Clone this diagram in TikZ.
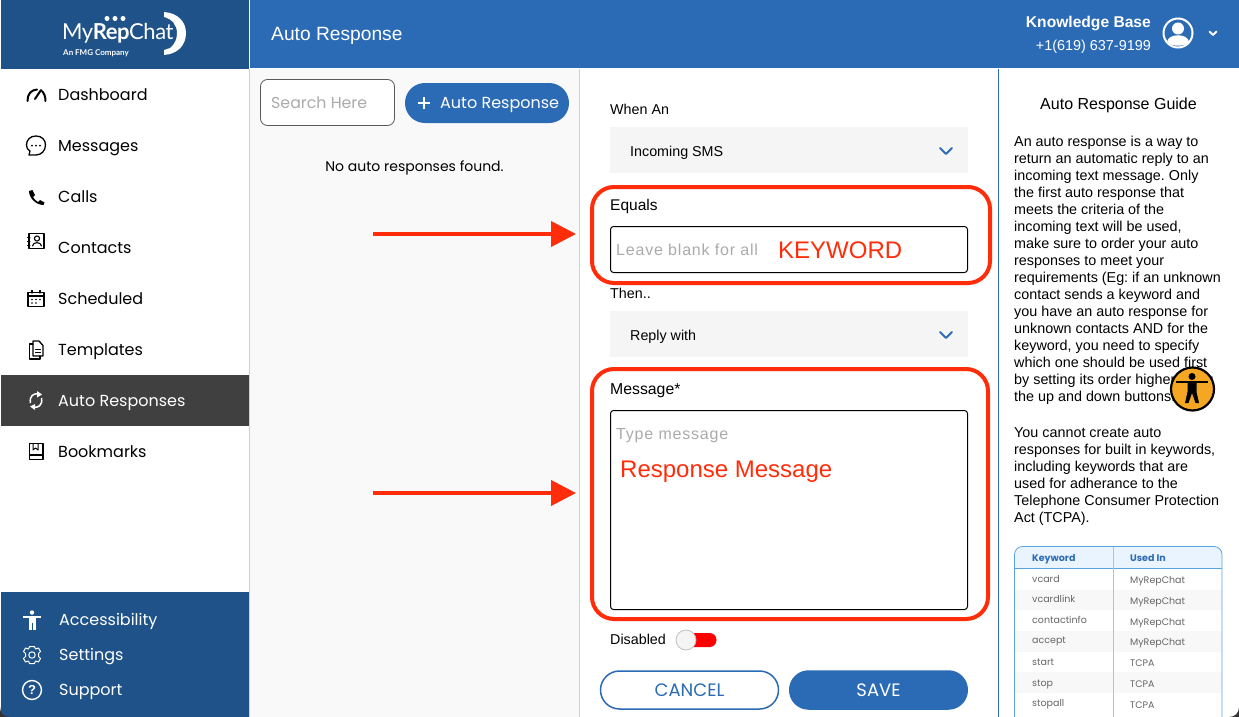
\documentclass[tikz,border=0pt]{standalone}
\usepackage{fontspec}
\setmainfont{Liberation Sans}
\newfontfamily\popfont{Poppins}
\newfontfamily\logofont{Lato}
\usetikzlibrary{arrows.meta}
\definecolor{navy}{HTML}{1F5289}
\definecolor{headblue}{HTML}{2B6BB5}
\definecolor{darkrow}{HTML}{404040}
\definecolor{listbg}{HTML}{F9F9F9}
\definecolor{selectbg}{HTML}{F5F5F5}
\definecolor{hintgray}{HTML}{ABABAB}
\definecolor{markred}{HTML}{FF2D0A}
\definecolor{orangeicon}{HTML}{F5A623}
\definecolor{tableline}{HTML}{5BA3E0}
\definecolor{tablehead}{HTML}{EAF4FE}
\definecolor{tablerow}{HTML}{F8F8F8}
\newcommand{\fsz}[1]{\fontsize{#1}{#1}\selectfont}
\tikzset{
  menulabel/.style={anchor=mid west,inner sep=0pt,yshift=-3pt,font=\popfont\fsz{16}},
  formlabel/.style={anchor=mid west,inner sep=0pt,yshift=-2.5pt,font=\fsz{14.3}},
  hint/.style={anchor=mid west,inner sep=0pt,yshift=-3pt,text=hintgray,font=\addfontfeature{LetterSpace=5}\fsz{16}},
  marktext/.style={anchor=mid west,inner sep=0pt,yshift=-5.5pt,text=markred},
  selectbox/.style={draw=none,fill=selectbg,minimum width=358pt,minimum height=46pt,inner sep=0pt},
  inputbox/.style={draw=black,fill=white,line width=1pt,rounded corners=3pt,inner sep=0pt},
  redbox/.style={draw=markred,line width=4pt,rounded corners=22pt,inner sep=0pt},
  redarrow/.style={draw=markred,line width=4pt,-{Triangle[length=25pt,width=25pt]}},
  cellkey/.style={anchor=mid west,inner sep=0pt,yshift=-1pt,text=black!60,font=\popfont\fsz{9.5}},
  cellused/.style={anchor=mid west,inner sep=0pt,yshift=-1pt,text=black!60,font=\popfont\fsz{9.5}},
  chevron/.style={line width=2pt,line cap=round,line join=round},
  iconline/.style={draw=black,line width=1.3pt,line join=round,line cap=round},
}
\begin{document}
\begin{tikzpicture}[x=1pt,y=1pt,yscale=-1]
  \useasboundingbox (0,0) rectangle (1239,717);
  % panels
  \fill[white] (0,0) rectangle (1239,717);
  \fill[listbg] (250,69) rectangle (579,717);
  \fill[headblue] (250,0) rectangle (1239,68);
  \fill[navy] (1,0) rectangle (249,69);
  \fill[navy] (1,592) rectangle (249,717);
  \fill[darkrow] (1,375) rectangle (249,426);
  \draw[black!18] (249.5,69) -- (249.5,717);
  \draw[black!18] (579.5,69) -- (579.5,717);
  \draw[headblue,line width=1.2pt] (998.5,69) -- (998.5,717);
  % logo
  \node[anchor=mid west,inner sep=0pt,yshift=-4pt,text=white,font=\logofont\fsz{22}] (logotext) at (62,33)
    {\addfontfeature{LetterSpace=-2}My\textbf{Rep}Chat};
  \node[anchor=mid west,inner sep=0pt,yshift=-1pt,text=white,font=\logofont\bfseries\fsz{8}] (logosub) at (63,52) {An FMG Company};
  \fill[white] (107,18.5) circle[radius=2.5] (115,18.5) circle[radius=2.5] (123,18.5) circle[radius=2.5];
  \fill[white] (164,12) .. controls (178,13) and (186,22) .. (186,33)
    .. controls (186,45) and (178,54) .. (164,55) -- (164,50) -- (170,48)
    .. controls (175,44) and (177,39) .. (177,33) .. controls (177,25) and (172,19) .. (164,17) -- cycle;
  % menu
  \node[menulabel] (dashboard) at (58,95) {Dashboard};
  \node[menulabel] (messages) at (58,146) {Messages};
  \node[menulabel] (calls) at (58,197) {Calls};
  \node[menulabel] (contacts) at (58,248) {Contacts};
  \node[menulabel] (scheduled) at (58,299) {Scheduled};
  \node[menulabel] (templates) at (58,350) {Templates};
  \node[menulabel,text=white] (autoresponses) at (58,401) {Auto Responses};
  \node[menulabel] (bookmarks) at (58,452) {Bookmarks};
  \node[menulabel,text=white] (accessibility) at (59,620) {Accessibility};
  \node[menulabel,text=white] (settings) at (59,655) {Settings};
  \node[menulabel,text=white] (support) at (59,690) {Support};
  % menu icons
  \draw[iconline,line width=2pt] (27.5,101) .. controls (27.5,94) and (31,90) .. (37,89.5);
  \draw[iconline,line width=2pt] (42,91) .. controls (44.5,94) and (45.5,97) .. (45.5,101);
  \draw[iconline,line width=2pt] (35,99) -- (41,90);
  \draw[iconline] (36,136) .. controls (42,136) and (45.5,140) .. (45.5,145)
    .. controls (45.5,151) and (41,155) .. (36,155) -- (29,155) -- (30,151)
    .. controls (27,149) and (26.5,147) .. (26.5,145) .. controls (26.5,140) and (30,136) .. (36,136);
  \fill (32,145.5) circle[radius=1] (36,145.5) circle[radius=1] (40,145.5) circle[radius=1];
  \fill (29,191) -- (32.5,190) -- (35,195) -- (33,197) .. controls (34,199) and (36,201) .. (38,202) -- (40,200) -- (44.5,202.5) -- (43.5,205)
    .. controls (36,205) and (29,198) .. (29,191) -- cycle;
  \draw[iconline] (29,233.5) rectangle (44,248.5);
  \draw[iconline,line width=1pt] (27.5,237) -- (30,237) (27.5,241) -- (30,241) (27.5,245) -- (30,245);
  \draw[iconline,line width=1.1pt] (37,238.5) circle[radius=2.6];
  \draw[iconline,line width=1.1pt] (32.5,246) .. controls (33,241.5) and (41,241.5) .. (41.5,246);
  \draw[iconline] (28,292.5) rectangle (44,306.5);
  \draw[iconline] (28,296) -- (44,296) (32,290.5) -- (32,293) (40,290.5) -- (40,293);
  \fill (32,299.5) circle[radius=.8] (36,299.5) circle[radius=.8] (40,299.5) circle[radius=.8]
    (32,303) circle[radius=.8] (36,303) circle[radius=.8];
  \draw[iconline] (33,341) -- (39,341) -- (43,345.5) -- (43,356) -- (33,356) -- cycle;
  \draw[iconline] (33,344) -- (29.5,344) -- (29.5,359) -- (40,359) -- (40,356);
  \draw[iconline,line width=1pt] (35.5,349) -- (40.5,349) (35.5,352) -- (40.5,352);
  \draw[white,line width=1.5pt] (30.5,403) .. controls (29,396) and (34,392.5) .. (39,394);
  \draw[white,line width=1.5pt] (41.5,398) .. controls (43,405) and (38,408.5) .. (33,407);
  \fill[white] (37,391) -- (42,394.5) -- (37,397.5) -- cycle;
  \fill[white] (35,404) -- (30,406.5) -- (35,410) -- cycle;
  \draw[iconline] (29.5,443.5) rectangle (43,459.5);
  \draw[iconline] (29.5,455) -- (43,455);
  \draw[iconline,line width=1pt] (33,443.5) -- (33,450) -- (35.5,448) -- (38,450) -- (38,443.5);
  % bottom icons
  \fill[white] (32,612.5) circle[radius=2.2];
  \fill[white] (23,615.5) rectangle (41,617.5);
  \fill[white] (28.5,617) rectangle (35.5,623);
  \fill[white] (28.5,622) rectangle (31.5,630);
  \fill[white] (32.5,622) rectangle (35.5,630);
  \draw[white,line width=1pt] (32,655) circle[radius=3.2];
  \draw[white,line width=1pt,line join=round] (29.5,646.5) -- (34.5,646.5) -- (35.5,649) -- (38.5,648) -- (40.5,651.5) -- (38.5,653.5)
    -- (38.5,656.5) -- (40.5,658.5) -- (38.5,662) -- (35.5,661) -- (34.5,663.5) -- (29.5,663.5) -- (28.5,661) -- (25.5,662)
    -- (23.5,658.5) -- (25.5,656.5) -- (25.5,653.5) -- (23.5,651.5) -- (25.5,648) -- (28.5,649) -- cycle;
  \draw[white,line width=1.4pt] (32,690) circle[radius=9.5];
  \node[inner sep=0pt,text=white,font=\bfseries\fsz{13}] (supportmark) at (32,690) {?};
  % header
  \node[anchor=mid west,inner sep=0pt,yshift=-3.5pt,text=white,font=\fsz{19.2}] (pagetitle) at (271,34.5) {Auto Response};
  \node[anchor=mid east,inner sep=0pt,yshift=-3pt,text=white,font=\bfseries\fsz{15.6}] (kbname) at (1151,22) {Knowledge Base};
  \node[anchor=mid east,inner sep=0pt,yshift=-2.5pt,text=white,font=\fsz{14.4}] (kbphone) at (1151,45.5) {+1(619) 637-9199};
  \draw[white,line width=2pt] (1178,33) circle[radius=14.5];
  \fill[white] (1178,28.5) circle[radius=6];
  \fill[white] (1167,42) .. controls (1168,33) and (1188,33) .. (1189,42) .. controls (1184,47) and (1172,47) .. (1167,42) -- cycle;
  \draw[white,chevron] (1209.5,31.5) -- (1213,35) -- (1216.5,31.5);
  % search column
  \node[draw=black!65,fill=white,rounded corners=7pt,line width=.8pt,minimum width=134pt,minimum height=46pt,inner sep=0pt] (searchbox) at (327.5,102.5) {};
  \node[anchor=mid west,inner sep=0pt,yshift=-3pt,text=hintgray,font=\popfont\fsz{15.8}] (searchhint) at (271,103) {Search Here};
  \node[fill=headblue,rounded corners=19.9pt,minimum width=164pt,minimum height=40pt,inner sep=0pt] (addbutton) at (487,103) {};
  \draw[white,line width=1.2pt] (418,103) -- (430,103) (424,97) -- (424,109);
  \node[anchor=mid west,inner sep=0pt,yshift=-3pt,text=white,font=\popfont\fsz{16}] (addlabel) at (440,103) {Auto Response};
  \node[inner sep=0pt,anchor=mid,yshift=-2pt,font=\popfont\fsz{14}] (noresults) at (414.5,166.5) {No auto responses found.};
  % form
  \node[formlabel] (whenan) at (610,109) {When An};
  \node[selectbox] (whenselect) at (789,150) {};
  \node[formlabel] (incoming) at (630,151.5) {Incoming SMS};
  \draw[headblue,chevron] (940,148) -- (946,154) -- (952,148);
  \node[redbox,minimum width=398pt,minimum height=96pt] (equalsred) at (791,235) {};
  \node[formlabel,font=\fsz{15.5}] (equals) at (610,205) {Equals};
  \node[inputbox,minimum width=357pt,minimum height=46pt] (equalsinput) at (789,249.5) {};
  \node[hint] (blankhint) at (616,250) {Leave blank for all};
  \node[marktext,font=\fsz{24}] (keyword) at (778,250) {KEYWORD};
  \node[formlabel] (thenlabel) at (610,293) {Then..};
  \node[selectbox] (thenselect) at (789,334) {};
  \node[formlabel] (replywith) at (630,335.5) {Reply with};
  \draw[headblue,chevron] (940,332) -- (946,338) -- (952,332);
  \node[redbox,minimum width=396pt,minimum height=250pt] (messagered) at (790,494) {};
  \node[formlabel,font=\fsz{15.8}] (messagelabel) at (610,389) {Message*};
  \node[inputbox,minimum width=357pt,minimum height=199pt] (messageinput) at (789,510) {};
  \node[hint] (typehint) at (616,434) {Type message};
  \node[marktext,font=\fsz{24}] (responsemsg) at (620,469) {Response Message};
  % arrows
  \coordinate (arrowone) at (373,234);
  \coordinate (arrowtwo) at (373,493);
  \draw[redarrow,shorten >=14pt] (arrowone) -- (arrowone -| equalsred.west);
  \draw[redarrow,shorten >=14pt] (arrowtwo) -- (arrowtwo -| messagered.west);
  % toggle and buttons
  \node[formlabel] (disabled) at (610,639.5) {Disabled};
  \node[fill=red,rounded corners=7pt,minimum width=37pt,minimum height=14pt,inner sep=0pt] (toggletrack) at (698,640) {};
  \node[circle,draw=black!25,fill=selectbg,line width=.8pt,minimum size=20pt,inner sep=0pt] (toggleknob) at (686,640) {};
  \node[draw=headblue,fill=white,line width=1.5pt,rounded corners=19pt,minimum width=178pt,minimum height=38pt,inner sep=0pt,text=headblue,font=\popfont\fsz{18}] (cancelbutton) at (689.5,690) {CANCEL};
  \node[fill=headblue,rounded corners=19.6pt,minimum width=179pt,minimum height=39.5pt,inner sep=0pt,text=white,font=\popfont\fsz{18}] (savebutton) at (878.5,690) {SAVE};
  % guide
  \node[inner sep=0pt,anchor=mid,yshift=-2.5pt,font=\fsz{16}] (guidetitle) at (1118.5,104.5) {Auto Response Guide};
  \node[anchor=north west,inner sep=0pt,align=left,font=\fontsize{14.35}{17}\selectfont\frenchspacing] (guideone) at (1014,135.5) {%
    An auto response is a way to\\
    return an automatic reply to an\\
    incoming text message. Only\\
    the first auto response that\\
    meets the criteria of the\\
    incoming text will be used,\\
    make sure to order your auto\\
    responses to meet your\\
    requirements (Eg: if an unknown\\
    contact sends a keyword and\\
    you have an auto response for\\
    unknown contacts AND for the\\
    keyword, you need to specify\\
    which one should be used first\\
    by setting its order higher using\\
    the up and down buttons.};
  \node[anchor=north west,inner sep=0pt,align=left,font=\fontsize{14.35}{17}\selectfont\frenchspacing] (guidetwo) at (1014,427.5) {%
    You cannot create auto\\
    responses for built in keywords,\\
    including keywords that are\\
    used for adherance to the\\
    Telephone Consumer Protection\\
    Act (TCPA).};
  % accessibility badge
  \node[circle,draw=black,fill=orangeicon,line width=2.2pt,minimum size=43pt,inner sep=0pt] (badge) at (1192.5,389) {};
  \fill (1192,376.5) circle[radius=3.5];
  \draw[line width=2pt] (1176,382) -- (1208,382);
  \fill (1187.5,382) -- (1196.5,382) -- (1196.5,392) -- (1199,403) -- (1195.5,403) -- (1192,393) -- (1188.5,403) -- (1185,403) -- (1187.5,392) -- cycle;
  % keyword table
  \fill[tablehead] (1014.5,568.5) -- (1014.5,554) [rounded corners=8pt] -- (1014.5,546.5) -- (1222,546.5) [sharp corners] -- (1222,568.5) -- cycle;
  \fill[tablerow] (1015,590) rectangle (1222,610);
  \fill[tablerow] (1015,631) rectangle (1222,652);
  \fill[tablerow] (1015,672) rectangle (1222,693);
  \draw[tableline,line width=.8pt] (1014.5,717) -- (1014.5,554) [rounded corners=8pt] -- (1014.5,546.5) -- (1222,546.5) [sharp corners] -- (1222,717);
  \draw[tableline,line width=.8pt] (1014.5,568.5) -- (1222,568.5);
  \draw[tableline!60,line width=.8pt] (1113.5,546.5) -- (1113.5,717);
  \node[cellkey,text=headblue,font=\popfont\bfseries\fsz{9.5}] (keywordhead) at (1032,558) {Keyword};
  \node[cellused,text=headblue,font=\popfont\bfseries\fsz{9.5}] (usedhead) at (1130,558) {Used In};
  \node[cellkey] (vcard) at (1032,579) {vcard};
  \node[cellkey] (vcardlink) at (1032,599) {vcardlink};
  \node[cellkey] (contactinfo) at (1032,620) {contactinfo};
  \node[cellkey] (accept) at (1032,640) {accept};
  \node[cellkey] (start) at (1032,662) {start};
  \node[cellkey] (stop) at (1032,683) {stop};
  \node[cellkey] (stopall) at (1032,703) {stopall};
  \node[cellused] (usedvcard) at (1130,580) {MyRepChat};
  \node[cellused] (usedlink) at (1130,601) {MyRepChat};
  \node[cellused] (usedinfo) at (1130,622) {MyRepChat};
  \node[cellused] (usedaccept) at (1130,642) {MyRepChat};
  \node[cellused] (usedstart) at (1130,663) {TCPA};
  \node[cellused] (usedstop) at (1130,684) {TCPA};
  \node[cellused] (usedstopall) at (1130,705) {TCPA};
  % window corners
  \fill[black!80] (0,707) .. controls (0,713) and (4,717) .. (10,717) -- (0,717) -- cycle;
  \fill[black!80] (1239,707) .. controls (1239,713) and (1235,717) .. (1229,717) -- (1239,717) -- cycle;
\end{tikzpicture}
\end{document}
